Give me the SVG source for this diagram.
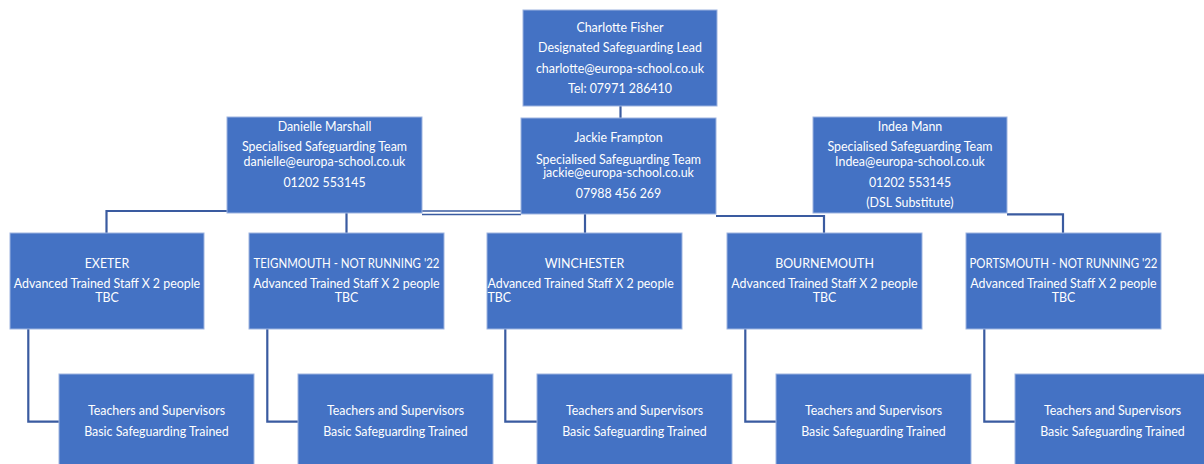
<svg xmlns="http://www.w3.org/2000/svg" width="1204" height="464" viewBox="0 0 1204 464">
<style>
.box{fill:#4472C4;stroke:#9DB4E0;stroke-width:1}
.t{font-family:Lato,"Liberation Sans",sans-serif;font-size:12.4px;fill:#FFFFFF;text-anchor:middle}
.l{text-anchor:start}
.c{fill:none;stroke:#3A5BA0;stroke-width:2.2}
.c2{fill:none;stroke:#3A5BA0;stroke-width:1.6}
</style>
<rect width="1204" height="464" fill="#FFFFFF"/>
<g id="connectors">
<line class="c" x1="620.5" y1="106" x2="620.5" y2="118" stroke-width="2.6"/>
<polyline class="c" points="227,211 106.5,211 106.5,233"/>
<line class="c" x1="346.5" y1="213" x2="346.5" y2="233"/>
<line class="c2" x1="422" y1="211" x2="521" y2="211"/>
<line class="c2" x1="422" y1="214.5" x2="521" y2="214.5"/>
<line class="c" x1="585" y1="214" x2="585" y2="233"/>
<polyline class="c" points="716,216 824,216 824,233"/>
<polyline class="c" points="1007,214.3 1063,214.3 1063,233"/>
<polyline class="c" points="28.3,329 28.3,421.7 59,421.7"/>
<polyline class="c" points="267.3,329 267.3,421.7 298,421.7"/>
<polyline class="c" points="505.3,329 505.3,421.7 537,421.7"/>
<polyline class="c" points="745.3,329 745.3,421.7 776,421.7"/>
<polyline class="c" points="984.3,329 984.3,421.7 1015,421.7"/>
</g>
<g id="charlotte">
<rect class="box" x="523" y="10" width="194" height="96"/>
<text class="t" x="620" y="32">Charlotte Fisher</text>
<text class="t" x="620" y="52">Designated Safeguarding Lead</text>
<text class="t" x="620" y="73">charlotte@europa-school.co.uk</text>
<text class="t" x="620" y="93">Tel: 07971 286410</text>
</g>
<g id="danielle">
<rect class="box" x="227" y="117" width="195" height="96"/>
<text class="t" x="324.5" y="131">Danielle Marshall</text>
<text class="t" x="324.5" y="151">Specialised Safeguarding Team</text>
<text class="t" x="324.5" y="166">danielle@europa-school.co.uk</text>
<text class="t" x="324.5" y="187">01202 553145</text>
</g>
<g id="jackie">
<rect class="box" x="521" y="118" width="195" height="96"/>
<text class="t" x="618.5" y="142">Jackie Frampton</text>
<text class="t" x="618.5" y="164">Specialised Safeguarding Team</text>
<text class="t" x="618.5" y="177">jackie@europa-school.co.uk</text>
<text class="t" x="618.5" y="198">07988 456 269</text>
</g>
<g id="indea">
<rect class="box" x="813" y="117" width="194" height="96"/>
<text class="t" x="910" y="131">Indea Mann</text>
<text class="t" x="910" y="151">Specialised Safeguarding Team</text>
<text class="t" x="910" y="166">Indea@europa-school.co.uk</text>
<text class="t" x="910" y="187">01202 553145</text>
<text class="t" x="910" y="207">(DSL Substitute)</text>
</g>
<g id="exeter">
<rect class="box" x="10" y="233" width="194" height="96"/>
<text class="t" x="107" y="268">EXETER</text>
<text class="t" x="107" y="288">Advanced Trained Staff X 2 people</text>
<text class="t" x="107" y="302">TBC</text>
</g>
<g id="teignmouth">
<rect class="box" x="249" y="233" width="195" height="96"/>
<text class="t" x="346.5" y="268" textLength="186" lengthAdjust="spacingAndGlyphs">TEIGNMOUTH - NOT RUNNING '22</text>
<text class="t" x="346.5" y="288">Advanced Trained Staff X 2 people</text>
<text class="t" x="346.5" y="302">TBC</text>
</g>
<g id="winchester">
<rect class="box" x="487" y="233" width="195" height="96"/>
<text class="t" x="584.5" y="268">WINCHESTER</text>
<text class="t l" x="487.5" y="288">Advanced Trained Staff X 2 people</text>
<text class="t l" x="487.5" y="302">TBC</text>
</g>
<g id="bournemouth">
<rect class="box" x="727" y="233" width="195" height="96"/>
<text class="t" x="824.5" y="268">BOURNEMOUTH</text>
<text class="t" x="824.5" y="288">Advanced Trained Staff X 2 people</text>
<text class="t" x="824.5" y="302">TBC</text>
</g>
<g id="portsmouth">
<rect class="box" x="966" y="233" width="195" height="96"/>
<text class="t" x="1063.5" y="268" textLength="188" lengthAdjust="spacingAndGlyphs">PORTSMOUTH - NOT RUNNING '22</text>
<text class="t" x="1063.5" y="288">Advanced Trained Staff X 2 people</text>
<text class="t" x="1063.5" y="302">TBC</text>
</g>
<g id="teachers-exeter">
<rect class="box" x="59" y="374" width="195" height="96"/>
<text class="t" x="156.5" y="415">Teachers and Supervisors</text>
<text class="t" x="156.5" y="436">Basic Safeguarding Trained</text>
</g>
<g id="teachers-teignmouth">
<rect class="box" x="298" y="374" width="195" height="96"/>
<text class="t" x="395.5" y="415">Teachers and Supervisors</text>
<text class="t" x="395.5" y="436">Basic Safeguarding Trained</text>
</g>
<g id="teachers-winchester">
<rect class="box" x="537" y="374" width="195" height="96"/>
<text class="t" x="634.5" y="415">Teachers and Supervisors</text>
<text class="t" x="634.5" y="436">Basic Safeguarding Trained</text>
</g>
<g id="teachers-bournemouth">
<rect class="box" x="776" y="374" width="195" height="96"/>
<text class="t" x="873.5" y="415">Teachers and Supervisors</text>
<text class="t" x="873.5" y="436">Basic Safeguarding Trained</text>
</g>
<g id="teachers-portsmouth">
<rect class="box" x="1015" y="374" width="195" height="96"/>
<text class="t" x="1112.5" y="415">Teachers and Supervisors</text>
<text class="t" x="1112.5" y="436">Basic Safeguarding Trained</text>
</g>
</svg>
